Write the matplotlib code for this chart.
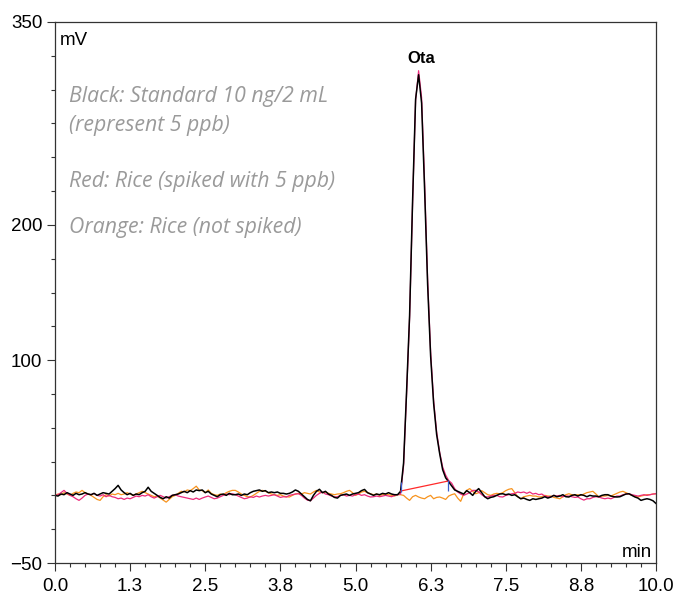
import numpy as np
import matplotlib
matplotlib.use("Agg")
import matplotlib.pyplot as plt
from matplotlib.ticker import MultipleLocator

# ---------------- DATA (mV every 0.05 min) ----------------
t_step = 0.05
n_points = 201

black_mv = [
    0, -0.5, 1, 0.5, 2, 1, 0, 1.5, 0.5, 1, 2, 1, 0.5, 1.5, 0, 1, 2, 1.5, 1, 3,
    5, 7.4, 4, 2, 0.5, 1.5, 0, 1, 0.5, 2, 3, 6, 3, 1.5, 0, -1.5, -2.5, -1, -2, 0,
    0.5, 1, 2, 3, 2, 3.5, 2.5, 4, 3.5, 4, 2, 3, 1, 0, -1, 0.5, 1, 0, 1.5, 0.5,
    0.5, 1, 0, 1, 0.5, 2, 3, 3.5, 4, 3, 3.5, 2, 2.5, 2, 2.5, 1.5, 1.5, 1, 1.5, 2.5,
    4, 3, 1, -1, -3, -4, 0, 3, 4.5, 2, 3, 1, 0, -1.5, -2, 0, 0.5, 1, 0, 1,
    1.5, 2, 3.5, 4.4, 2, 1, 0, 1, 0.5, 1.5, 1, 2, 1, 0.5, 0.5, 3, 24, 77, 133, 218,
    293, 311, 290, 226, 156, 103, 68, 45, 31, 19, 13, 10, 7, 4, 3, 2, 1, 3.5, 2, 0,
    3, 5, 2, -1, -2.5, -1.5, -1, 0, 1, 1.2, 0.5, 1, 0, 0.5, -1, -2.5, -2, -3, -3.7, -2.5,
    -3, -2.5, -2, -1, -2, -1.2, 0, -1, -0.5, 0.5, -1, -1.2, 0, 0.5, -0.5, 0.5, 0, -1, 0, -0.5,
    -0.5, -1, 0, 0.5, 0.5, -0.5, -1, -1.2, -1, 0, 1, 1.2, 0, -1.2, -2, -3.7, -3, -2.5, -3, -4,
    -6,
]

pink_mv = [
    0, 0.5, 2, 3.7, 1.5, 0, -1, -2.5, -3.7, -2, 0, 1, 0.5, 1.5, 0, -0.5, 0.5, -1, 0, -1,
    -1.5, -2.5, -2, -3, -2, -2.5, -1.5, -0.5, -1, 0, -0.5, 0.5, -1, -2, -1, 0, -1, -2, -1, 0,
    0.5, -0.5, -1, -1.5, -2, -2.5, -3, -2, -3, -2, -1.2, -0.5, -1.5, -2.5, -2, -1, 0, 1, 0.5, 1.2,
    0.5, -0.5, -1.5, -2.5, -2, -1, -1.5, -0.5, -1.2, -0.5, 0, -0.5, 0, 0.5, -0.5, -1.5, -1, -1.2, 0, 0.5,
    1, 1.2, 0, -2, -3.5, -4, -2, 0, 1.5, 2.5, 1, 0.5, -0.5, -1.2, -1, 0, 0.5, -0.5, 0, -0.5,
    0.5, 1, 0, 0.5, -0.5, -1.2, -1, -0.5, -1, -0.5, 0, -0.5, -1, 0, 0.5, 1, 22, 75, 131, 216,
    292, 314, 294, 231, 160, 106, 70, 47, 32, 21, 15, 11, 9, 5, 2.5, 1, 0, 1, 2, 3.7,
    3.7, 2.5, 0.5, -1, -1.2, -0.5, 0, 0, -1, -1.2, 0, 0.5, 1.2, 1.5, 2.5, 2, 2.5, 1.5, 2.5, 1,
    1.5, 0.5, 1, -0.5, -1, -1.2, 0, -0.5, 0, -1, -0.5, -0.5, -1, -1.5, -1.2, -2.5, -3.5, -2.5, -2.5, -1.5,
    -1, -1.2, -2, -2.5, -2, -2.5, -1.5, -0.5, -0.5, 0.5, 1, 1.2, 0.5, 0, -0.5, 0, 0.5, 0, 0.5, 1,
    1.2,
]

orange_mv = [
    0, 1, 0.5, 2, 1, 0, 1.5, 2.5, 2, 3.7, 2, 1, 0, -1.5, -3, -3.7, -1, 0.5, -0.5, 1,
    0.5, 1.5, 0.5, 1, 2, 1, 0, 1, 2, 3, 2, 1, 0, -1, -0.5, -2, -3.5, -5, -3, -1,
    0, 1.5, 3, 2.5, 4, 3.5, 5, 6.8, 4, 3.5, 2, 4, 1.5, 0.5, 0, 1, 0.5, 2, 3, 3.7,
    3.7, 2.5, 1, 0, -1, -1.2, 0, 1.5, 3, 3.7, 3, 2, 1, 0.5, 0, 0.5, -0.5, -1, -1.2, 0,
    1, 1.5, 1, 2, 1.5, 1, 2.5, 3.7, 2.5, 2, 2.5, 1.5, 1, 0.5, 1, 1.2, 2, 3, 3.7, 2,
    0, 1, 2.5, 3, 2, 1.2, 0.5, 1, 0, 0.5, 1.2, 0.5, 0, -0.5, 0.5, 0.5, 0, -2, -3.7, -1,
    0, -1.2, -2, -2.5, -1, 0, -2.5, -1.5, -1.2, -2, -3, -0.5, 0.5, 1.2, -2, -4.4, 1, 3.7, 5, 3,
    1.2, 2, 3.5, 2, 0.5, 0, 1, 1.5, 1.2, 2, 3.5, 4.5, 5, 2, -1, -2.5, -1, -0.5, 0, -0.5,
    -0.5, -1.2, -1, 0, -0.5, -0.5, -1.5, -2, -2.5, -1, 0.5, 1.2, 0.5, 0, 0.5, 0, 1, 2, 2.5, 3,
    1, -1.2, -0.5, -0.5, 0, -0.5, 0.5, 1.5, 2.5, 3, 2, 1, 0, -0.5, -1.2, -0.5, 0, 0.5, 0.5, 1,
    1.2,
]

# integration marks of the Ota peak
int_line_t = [5.75, 6.53]
int_line_mv = [3.2, 10.5]
int_tick_t = [5.75, 6.545]
int_tick_lo = [2.5, 3.5]
int_tick_hi = [10.0, 11.2]

peak_name = "Ota"
peak_t, peak_label_mv = 6.09, 320

x_ticks = [0, 1.25, 2.5, 3.75, 5.0, 6.25, 7.5, 8.75, 10.0]
x_ticklabels = ["0.0", "1.3", "2.5", "3.8", "5.0", "6.3", "7.5", "8.8", "10.0"]
y_ticks = [-50, 100, 200, 350]

notes = [
    "Black: Standard 10 ng/2 mL",
    "(represent 5 ppb)",
    "Red: Rice (spiked with 5 ppb)",
    "Orange: Rice (not spiked)",
]

# ---------------- PLOTTING ----------------
plt.rcParams['font.family'] = ['Liberation Sans', 'DejaVu Sans']

time = np.arange(n_points) * t_step

fig = plt.figure(figsize=(6.8, 5.97), dpi=100)
ax = fig.add_axes([55/680, 34/597, 601/680, 541/597])

ax.plot(time, orange_mv, color='#f7931e', lw=0.9)
ax.plot(time, pink_mv, color='#ec2a7b', lw=0.9)
ax.plot(time, black_mv, color='black', lw=1.1)

ax.plot(int_line_t, int_line_mv, color='#ff2a2a', lw=0.9)
ax.vlines(int_tick_t, int_tick_lo, int_tick_hi, color='#3a5fcd', lw=0.9)

ax.text(peak_t, peak_label_mv, peak_name, ha='center', va='baseline',
        fontsize=12, fontweight='bold')

ax.set_xlim(0, 10)
ax.set_ylim(-50, 350)
ax.set_xticks(x_ticks)
ax.set_xticklabels(x_ticklabels)
ax.set_yticks(y_ticks)
ax.xaxis.set_minor_locator(MultipleLocator(0.25))
ax.yaxis.set_minor_locator(MultipleLocator(25))
ax.tick_params(which='major', length=6, width=0.8, labelsize=13.5, color='#333333')
ax.tick_params(axis='x', which='major', pad=5)
ax.tick_params(axis='y', which='major', pad=3)
ax.tick_params(which='minor', length=3, width=0.8, color='#333333')
for s in ax.spines.values():
    s.set_linewidth(0.9)
    s.set_color('#333333')

ax.text(0.0083, 0.9575, "mV", transform=ax.transAxes, fontsize=13.5, va='baseline')
ax.text(0.9933, 0.0116, "min", transform=ax.transAxes, fontsize=13.5,
        ha='right', va='baseline')

note_y = [0.8527, 0.7982, 0.6956, 0.6094]
for txt, yy in zip(notes, note_y):
    ax.text(0.0233, yy, txt, transform=ax.transAxes, fontsize=15.3,
            family=['Open Sans', 'DejaVu Sans'], style='italic',
            color='#9a9a9a', va='baseline')

fig.savefig("out.png", dpi=100)
